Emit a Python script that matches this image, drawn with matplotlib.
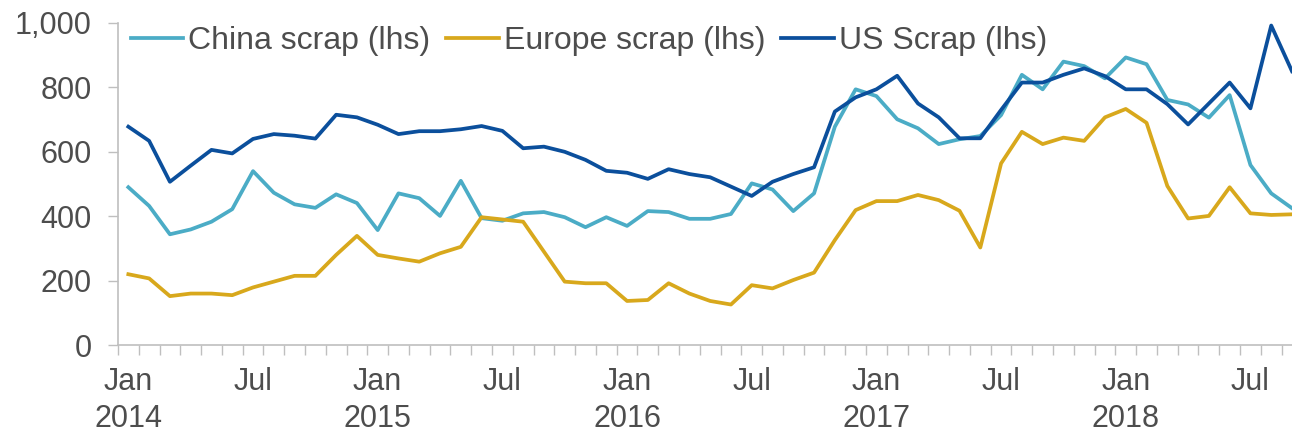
import numpy as np
import matplotlib
matplotlib.use("Agg")
import matplotlib.pyplot as plt

# Monthly scrap prices, Jan 2014 .. Sep 2018
months = ["Jan", "Feb", "Mar", "Apr", "May", "Jun",
          "Jul", "Aug", "Sep", "Oct", "Nov", "Dec"]
years = [2014, 2015, 2016, 2017, 2018]

china = [490, 432, 344, 359, 383, 422, 540, 473, 437, 426, 468, 441,
         357, 471, 456, 401, 510, 394, 386, 409, 413, 397, 366, 397,
         370, 416, 413, 392, 392, 407, 502, 483, 416, 471, 678, 794,
         773, 701, 673, 624, 639, 649, 714, 839, 794, 880, 866, 828,
         893, 872, 761, 747, 706, 776, 559, 471, 425]

europe = [220, 207, 152, 160, 160, 155, 179, 197, 215, 215, 280, 339,
          280, 269, 259, 285, 305, 397, 390, 383, 290, 197, 192, 192,
          137, 140, 192, 160, 137, 126, 186, 176, 202, 225, 326, 419,
          447, 447, 466, 450, 417, 303, 564, 662, 624, 644, 634, 707,
          733, 690, 494, 393, 401, 490, 409, 404, 406]

us = [678, 634, 507, 557, 606, 595, 640, 655, 650, 641, 715, 707,
      684, 655, 664, 664, 670, 680, 665, 611, 616, 600, 575, 541,
      535, 516, 546, 531, 521, 492, 463, 507, 531, 552, 725, 769,
      794, 836, 750, 707, 642, 642, 730, 815, 815, 839, 859, 835,
      794, 794, 748, 685, 750, 815, 735, 992, 850]

series_names = ["China scrap (lhs)", "Europe scrap (lhs)", "US Scrap (lhs)"]
colors = ["#4BACC6", "#D8A81C", "#0B4F9C"]

text_col = "#4D4D4D"
axis_col = "#BFBFBF"
plt.rcParams["font.family"] = ["Liberation Sans", "DejaVu Sans"]
fs = 22

fig = plt.figure(figsize=(12.92, 4.33), dpi=100)
ax = fig.add_axes([0.0913, 0.203, 0.9087, 0.744])

x = np.arange(len(china))
for vals, name, c in zip([china, europe, us], series_names, colors):
    ax.plot(x, vals, color=c, lw=2.7, label=name)

ax.set_xlim(-0.5, 56.0)
ax.set_ylim(0, 1000)

# category-style x axis: boundary ticks, labels at month centres
ax.set_xticks(np.arange(-0.5, 56.5, 1), minor=True)
label_pos = np.arange(0, len(china), 6)
labels = []
for p in label_pos:
    m = months[p % 12]
    if m == "Jan":
        labels.append("Jan\n" + str(years[p // 12]))
    else:
        labels.append(m + "\n ")
ax.set_xticks(label_pos)
ax.set_xticklabels(labels, va="top", linespacing=1.3)
ax.tick_params(axis="x", which="major", length=0, pad=16, labelsize=fs,
               labelcolor=text_col)
ax.tick_params(axis="x", which="minor", length=7, width=1, color=axis_col)

ax.set_yticks([0, 200, 400, 600, 800, 1000])
ax.set_yticklabels(["0", "200", "400", "600", "800", "1,000"])
ax.tick_params(axis="y", length=7, width=1, color=axis_col, pad=12,
               labelsize=fs, labelcolor=text_col)

for s in ["top", "right"]:
    ax.spines[s].set_visible(False)
for s in ["left", "bottom"]:
    ax.spines[s].set_color(axis_col)
    ax.spines[s].set_linewidth(1.2)

leg = ax.legend(loc="upper left", bbox_to_anchor=(0.0, 1.03), ncol=3,
                frameon=False, fontsize=23, handlelength=1.65,
                handletextpad=0.15, columnspacing=0.5, borderaxespad=0)
for t in leg.get_texts():
    t.set_color(text_col)

fig.savefig("out.png", dpi=100)
